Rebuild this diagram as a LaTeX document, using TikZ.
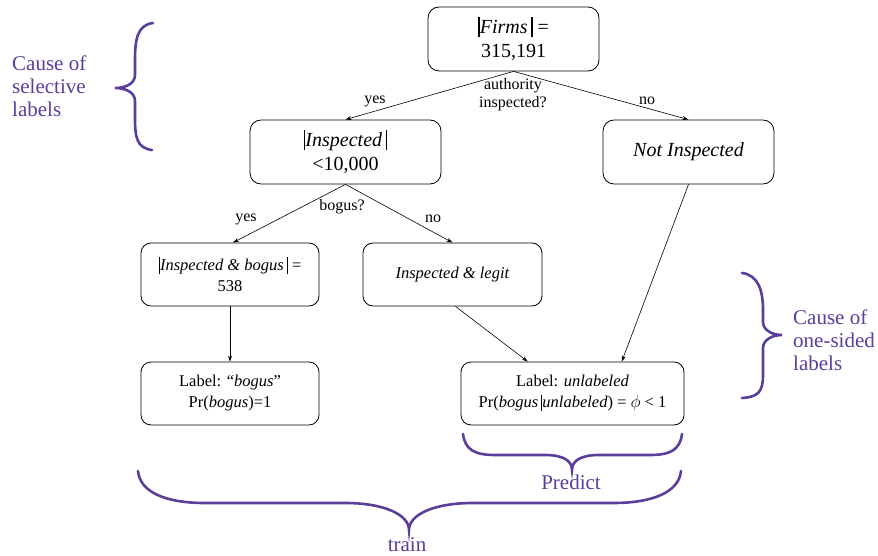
\documentclass[tikz,border=0pt]{standalone}
\usepackage{fontspec}
\setmainfont{Liberation Serif}
\usetikzlibrary{arrows.meta,calc}
\definecolor{brpurple}{RGB}{91,62,153}
\newcommand\vbar{\rule[-0.2em]{0.09em}{1.0em}}
\begin{document}
\begin{tikzpicture}[x=1pt,y=-1pt,
  bigbox/.style={draw,rounded corners=11pt,line width=0.8pt,minimum width=171pt,minimum height=64pt,align=center,inner sep=0pt,font=\fontsize{20}{24}\selectfont},
  smallbox/.style={draw,rounded corners=10pt,line width=0.8pt,minimum width=178pt,minimum height=63pt,align=center,inner sep=0pt,font=\fontsize{16.5}{21}\selectfont},
  edgelbl/.style={font=\fontsize{16}{18}\selectfont,inner sep=0pt,align=center},
  conn/.style={line width=0.6pt,-{Stealth[length=6pt,width=4pt]}},
  brace/.style={draw=brpurple,line width=2.6pt,line cap=round},
  ptext/.style={text=brpurple,font=\fontsize{21}{23}\selectfont,inner sep=0pt,align=left}]
\useasboundingbox (0,0) rectangle (878,556);

\node[bigbox] (firms) at (513.5,39) {\vbar\textit{Firms}\,\vbar{} =\\315,191};
\node[bigbox,minimum width=191pt] (insp) at (345.5,152) {\vbar\textit{Inspected}\,\vbar\\<10,000};
\node[bigbox] (notinsp) at (688.5,152) {\textit{Not Inspected}};
\node[smallbox] (ibogus) at (230,274.5) {\vbar\textit{Inspected \& bogus}\,\vbar{} =\\538};
\node[smallbox,minimum width=179pt] (ilegit) at (452.5,274.5) {\textit{Inspected \& legit}};
\node[smallbox] (lbogus) at (230,393.5) {Label: “\textit{bogus}”\\Pr(\textit{bogus})=1};
\node[smallbox,minimum width=223pt] (lunl) at (572.5,393.5) {Label: \textit{unlabeled}\\Pr(\textit{bogus}\,\vbar\textit{unlabeled}) = $\phi$ < 1};

\draw[conn] (firms.south) -- (insp.north);
\draw[conn] (firms.south) -- (notinsp.north);
\draw[conn] (insp.south) -- ([xshift=3pt]ibogus.north);
\draw[conn] (insp.south) -- (ilegit.north);
\draw[conn] (ibogus.south) -- (lbogus.north);
\draw[conn] ([xshift=3pt]ilegit.south) -- ($(lunl.north west)!0.3!(lunl.north east)$);
\draw[conn] (notinsp.south) -- ($(lunl.north west)!0.72!(lunl.north east)$);

\node[edgelbl] (y1) at (375,101) {yes};
\node[edgelbl] (n1) at (647,101) {no};
\node[edgelbl] (q1) at (513,95) {authority\\inspected?};
\node[edgelbl] (y2) at (246,219) {yes};
\node[edgelbl] (q2) at (342,207) {bogus?};
\node[edgelbl] (n2) at (433,219) {no};

\draw[brace] (153,23) .. controls (137,25) and (135,40) .. (135,60) -- (135,75) .. controls (135,84) and (125,88) .. (115,88) .. controls (125,88) and (135,92) .. (135,101) -- (135,118) .. controls (135,138) and (137,148) .. (152,150);
\draw[brace] (742,273) .. controls (758,275) and (763,290) .. (763,310) -- (763,322) .. controls (763,330) and (772,335) .. (782,335) .. controls (772,335) and (763,340) .. (763,348) -- (763,375) .. controls (763,392) and (758,397) .. (742,398);
\draw[brace] (463,434) .. controls (465,450) and (475,455) .. (495,455) -- (545,455) .. controls (562,455) and (572,460) .. (572,470) .. controls (572,460) and (582,455) .. (599,455) -- (650,455) .. controls (670,455) and (680,450) .. (682,434);
\draw[brace] (138,471) .. controls (140,492) and (165,503) .. (205,503) -- (345,503) .. controls (385,503) and (409,515) .. (409,530) .. controls (409,515) and (433,503) .. (473,503) -- (613,503) .. controls (653,503) and (679,492) .. (681,471);

\node[ptext,anchor=west] (sel) at (12,86) {Cause of\\selective\\labels};
\node[ptext,anchor=west] (one) at (793,340) {Cause of\\one-sided\\labels};
\node[ptext] (pred) at (571,482) {Predict};
\node[ptext] (train) at (407,545) {train};
\end{tikzpicture}
\end{document}
